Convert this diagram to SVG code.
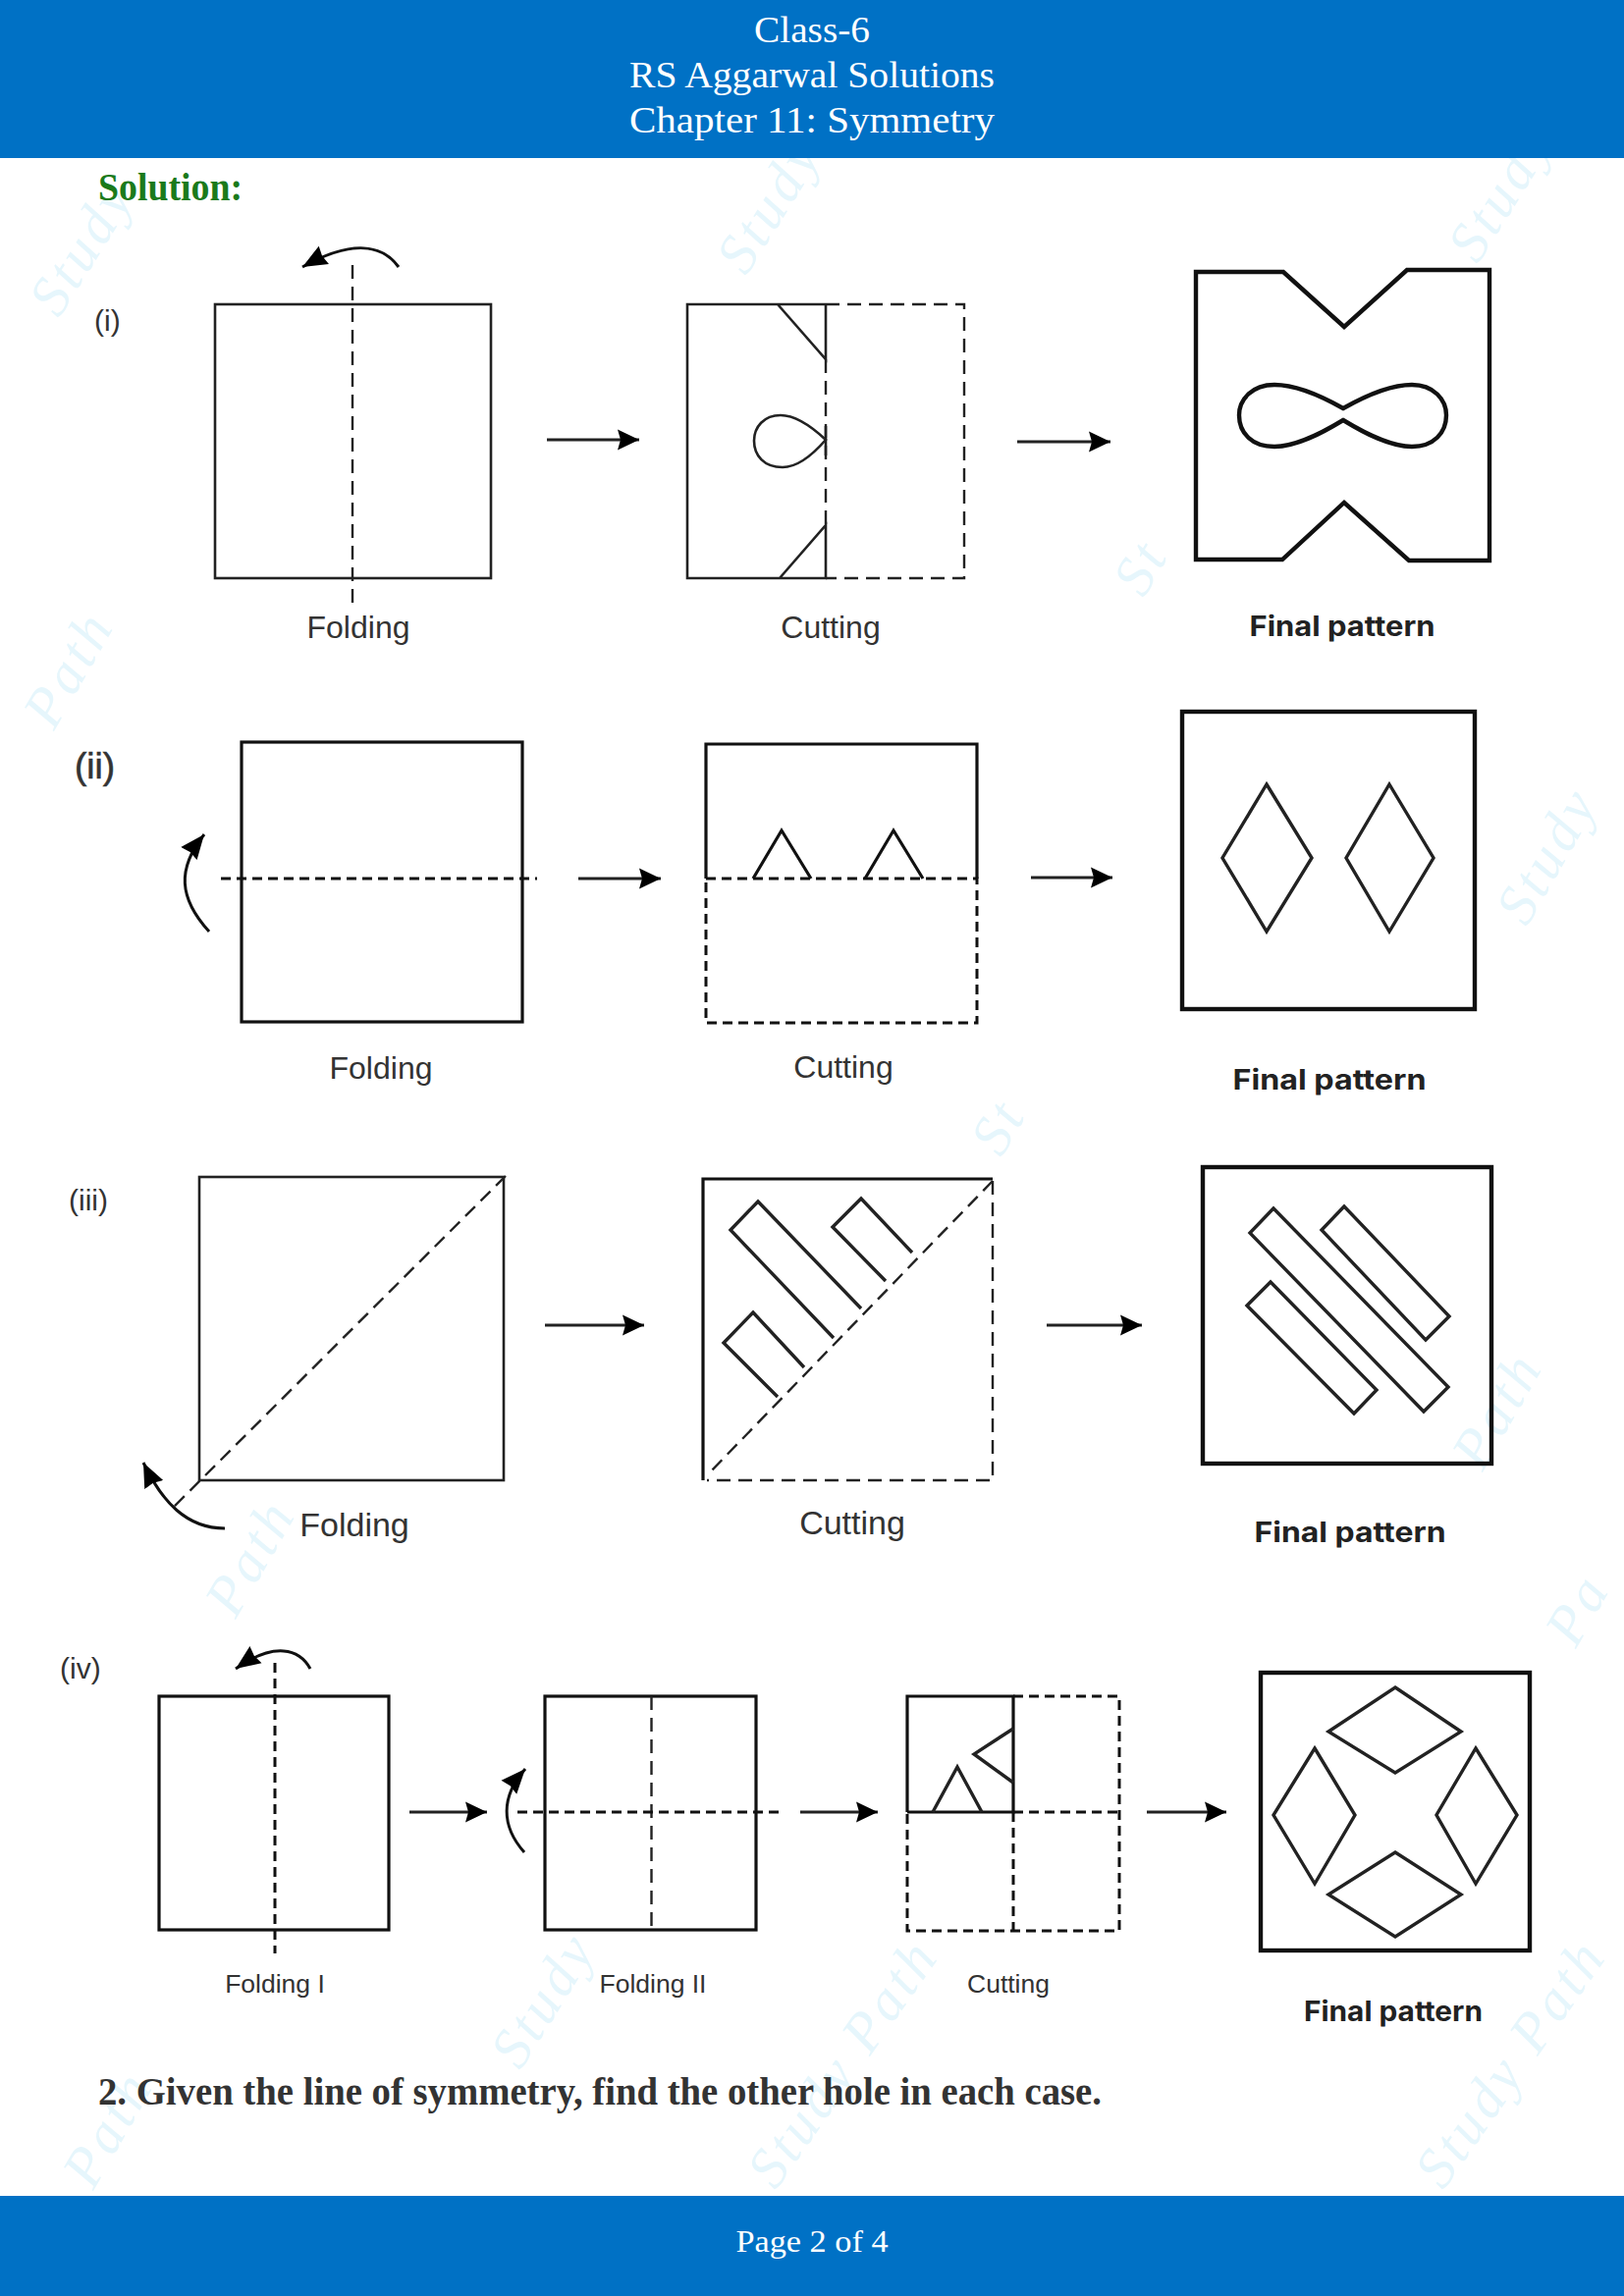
<svg xmlns="http://www.w3.org/2000/svg" width="1654" height="2339" viewBox="0 0 1654 2339">
<defs>
<style>
.band{fill:#0071c5}
.hd{font-family:"Liberation Serif",serif;font-size:37px;fill:#fff;text-anchor:middle}
.wm{font-family:"Liberation Serif",serif;font-style:italic;font-size:58px;letter-spacing:4px;fill:#e6f6fc}
.s{fill:none;stroke:#222;stroke-width:2.6}
.s3{fill:none;stroke:#111;stroke-width:3.2}
.f{fill:none;stroke:#111;stroke-width:4.400}
.t{fill:none;stroke:#222;stroke-width:3.400}
.d{fill:none;stroke:#222;stroke-width:2.4;stroke-dasharray:14 8}
.d3{fill:none;stroke:#111;stroke-width:3;stroke-dasharray:10 6}
.lb{font-family:"Liberation Sans",sans-serif;fill:#333;text-anchor:middle}
.fp{font-family:"Inter","Liberation Sans",sans-serif;font-weight:700;fill:#222;text-anchor:middle;font-size:28px}
.tag{font-family:"Liberation Sans",sans-serif;fill:#333;font-size:30px}
.ar{fill:none;stroke:#222;stroke-width:3;marker-end:url(#h)}
.cv{fill:none;stroke:#111;stroke-width:3;marker-end:url(#c)}
</style>
<marker id="h" markerUnits="userSpaceOnUse" markerWidth="24" markerHeight="23" refX="22" refY="11" orient="auto"><path d="M0 0.500L22 11L0 21.500L3 11Z" fill="#000"/></marker>
<marker id="c" markerUnits="userSpaceOnUse" markerWidth="28" markerHeight="24" refX="25" refY="11" orient="auto"><path d="M0 0.500L25 11L0 21.500L2 11Z" fill="#000"/></marker>
</defs>
<rect width="1654" height="2339" fill="#fff"/>
<g id="watermarks">
<text class="wm" transform="translate(60 325) rotate(-58)">Study</text>
<text class="wm" transform="translate(760 282) rotate(-58)">Study</text>
<text class="wm" transform="translate(1505 270) rotate(-58)">Study</text>
<text class="wm" transform="translate(1165 610) rotate(-60)">St</text>
<text class="wm" transform="translate(55 745) rotate(-60)">Path</text>
<text class="wm" transform="translate(1555 945) rotate(-60)">Study</text>
<text class="wm" transform="translate(1020 1180) rotate(-60)">St</text>
<text class="wm" transform="translate(1510 1500) rotate(-60)">Path</text>
<text class="wm" transform="translate(240 1650) rotate(-60)">Path</text>
<text class="wm" transform="translate(1605 1680) rotate(-60)">Pa</text>
<text class="wm" transform="translate(530 2110) rotate(-58)">Study</text>
<text class="wm" transform="translate(1470 2232) rotate(-55)">Study Path</text>
<text class="wm" transform="translate(95 2232) rotate(-60)">Path</text>
<text class="wm" transform="translate(790 2232) rotate(-55)">Study Path</text>
</g>
<rect class="band" width="1654" height="161"/>
<rect class="band" y="2237" width="1654" height="102"/>
<g id="header">
<text class="hd" x="827" y="43" textLength="118" lengthAdjust="spacingAndGlyphs">Class-6</text>
<text class="hd" x="827" y="89" textLength="372" lengthAdjust="spacingAndGlyphs">RS Aggarwal Solutions</text>
<text class="hd" x="827" y="135" textLength="372" lengthAdjust="spacingAndGlyphs">Chapter 11: Symmetry</text>
</g>
<text id="solution" x="100" y="204" font-family="Liberation Serif,serif" font-weight="700" font-size="39" fill="#1b7a1b" textLength="147" lengthAdjust="spacingAndGlyphs">Solution:</text>

<g id="i-folding">
<rect class="s" x="219" y="310" width="281" height="279"/>
<line class="d" x1="359" y1="270" x2="359" y2="615"/>
<text class="lb" x="365" y="650" font-size="32">Folding</text>
<text class="tag" x="96" y="337">(i)</text>
</g>
<g id="i-cutting">
<path class="s" d="M841 310H700V589H841V535L794 589M792 310L841 366V310M841 434V464"/>
<path class="d" d="M841 310H982V589H841M841 366V535"/>
<path class="s" d="M841 448C825 433 810 423 795 423C778 423 768 435 768 449C768 464 778 476 797 476C812 476 828 463 841 448Z"/>
<text class="lb" x="846" y="650" font-size="32">Cutting</text>
</g>
<g id="i-final">
<path class="f" d="M1218 277H1307L1369 333L1433 275H1517V571H1435L1369 512L1306 570H1218Z"/>
<path class="f" d="M1368 416C1345 403 1320 392 1298 392C1275 392 1262 407 1262 423C1262 441 1275 455 1298 455C1320 455 1345 442 1368 428C1391 442 1416 455 1438 455C1460 455 1473 441 1473 423C1473 407 1460 392 1438 392C1416 392 1391 403 1368 416Z"/>
<text class="fp" x="1367" y="648" textLength="189" lengthAdjust="spacingAndGlyphs">Final pattern</text>
</g>

<g id="ii-folding">
<rect class="s3" x="246" y="756" width="286" height="285"/>
<line class="d3" x1="225" y1="895" x2="547" y2="895"/>
<text class="lb" x="388" y="1099" font-size="32">Folding</text>
<text class="tag" x="76" y="793" style="font-size:37px;stroke:#333;stroke-width:.6">(ii)</text>
</g>
<g id="ii-cutting">
<path class="s3" d="M719 895V758H995V895"/>
<path class="d3" d="M719 895H995V1042H719Z"/>
<path class="s3" d="M767 895L796 846L826 895M881 895L910 846L940 895"/>
<text class="lb" x="859" y="1098" font-size="32">Cutting</text>
</g>
<g id="ii-final">
<rect class="f" x="1204" y="725" width="298" height="303"/>
<path class="t" d="M1290 799L1336 874L1290 949L1245 874ZM1415 799L1460 874L1415 949L1371 874Z"/>
<text class="fp" x="1354" y="1110" textLength="197" lengthAdjust="spacingAndGlyphs">Final pattern</text>
</g>

<g id="iii-folding">
<rect class="s" x="203" y="1199" width="310" height="309"/>
<line class="d" x1="515" y1="1198" x2="176" y2="1536"/>
<text class="lb" x="361" y="1565" font-size="34">Folding</text>
<text class="tag" x="70" y="1233">(iii)</text>
</g>
<g id="iii-cutting">
<path class="s3" d="M716 1508V1201H1011"/>
<path class="d" d="M1011 1203V1508H720M1011 1203L720 1503"/>
<path class="t" d="M849 1363L744 1253L772 1224L877 1333M902 1305L848 1250L877 1221L929 1276M792 1423L737 1368L767 1337L819 1393"/>
<text class="lb" x="868" y="1563" font-size="34">Cutting</text>
</g>
<g id="iii-final">
<rect class="f" x="1225" y="1189" width="294" height="302"/>
<path class="t" d="M1297 1231L1273 1256L1450 1438L1475 1413ZM1369 1229L1346 1253L1452 1365L1476 1341ZM1294 1306L1270 1330L1379 1440L1402 1416Z"/>
<text class="fp" x="1375" y="1571" textLength="195" lengthAdjust="spacingAndGlyphs">Final pattern</text>
</g>

<g id="iv-folding-1">
<rect class="s3" x="162" y="1728" width="234" height="238"/>
<line class="d3" x1="280" y1="1694" x2="280" y2="1990"/>
<text class="lb" x="280" y="2030" font-size="26.500">Folding I</text>
<text class="tag" x="61" y="1710">(iv)</text>
</g>
<g id="iv-folding-2">
<rect class="s3" x="555" y="1728" width="215" height="238"/>
<line class="d" x1="663.500" y1="1728" x2="663.500" y2="1966"/>
<line class="d3" x1="527" y1="1846" x2="798" y2="1846"/>
<text class="lb" x="665" y="2030" font-size="26.500">Folding II</text>
</g>
<g id="iv-cutting">
<path class="s3" d="M924 1846V1728H1032V1846H924"/>
<path class="d3" d="M1032 1728H1140V1967H924V1846M1032 1846H1140M1032 1846V1967"/>
<path class="t" d="M950 1846L975 1800L1000 1846M1032 1761L992 1787L1032 1816"/>
<text class="lb" x="1027" y="2030" font-size="26.500">Cutting</text>
</g>
<g id="iv-final">
<rect class="f" x="1284" y="1704" width="274" height="283"/>
<path class="t" d="M1421 1719L1488 1764L1421 1806L1353 1764ZM1421 1887L1488 1930L1421 1973L1353 1930ZM1339 1781L1380 1849L1339 1919L1297 1849ZM1503 1781L1545 1849L1503 1919L1463 1849Z"/>
<text class="fp" x="1419" y="2059" textLength="182" lengthAdjust="spacingAndGlyphs">Final pattern</text>
</g>

<g id="connectors">
<line class="ar" x1="557" y1="448" x2="651" y2="448"/>
<line class="ar" x1="1036" y1="450" x2="1131" y2="450"/>
<line class="ar" x1="589" y1="895" x2="673" y2="895"/>
<line class="ar" x1="1050" y1="894" x2="1133" y2="894"/>
<line class="ar" x1="555" y1="1350" x2="656" y2="1350"/>
<line class="ar" x1="1066" y1="1350" x2="1163" y2="1350"/>
<line class="ar" x1="417" y1="1846" x2="496" y2="1846"/>
<line class="ar" x1="815" y1="1846" x2="894" y2="1846"/>
<line class="ar" x1="1168" y1="1846" x2="1249" y2="1846"/>
<path class="cv" d="M406 272C390 250 360 243 308 272"/>
<path class="cv" d="M213 949C182 915 180 885 208 850"/>
<path class="cv" d="M229 1557C190 1557 165 1530 146 1490"/>
<path class="cv" d="M316 1700C305 1680 280 1672 240 1700"/>
<path class="cv" d="M534 1887C510 1860 510 1830 535 1802"/>
</g>

<text id="question" x="100" y="2144" font-family="Liberation Serif,serif" font-weight="700" font-size="39" fill="#333" textLength="1022" lengthAdjust="spacingAndGlyphs">2. Given the line of symmetry, find the other hole in each case.</text>
<text id="footer" x="827" y="2294" font-family="Liberation Serif,serif" font-size="32" fill="#fff" text-anchor="middle" textLength="155" lengthAdjust="spacingAndGlyphs">Page 2 of 4</text>
</svg>
